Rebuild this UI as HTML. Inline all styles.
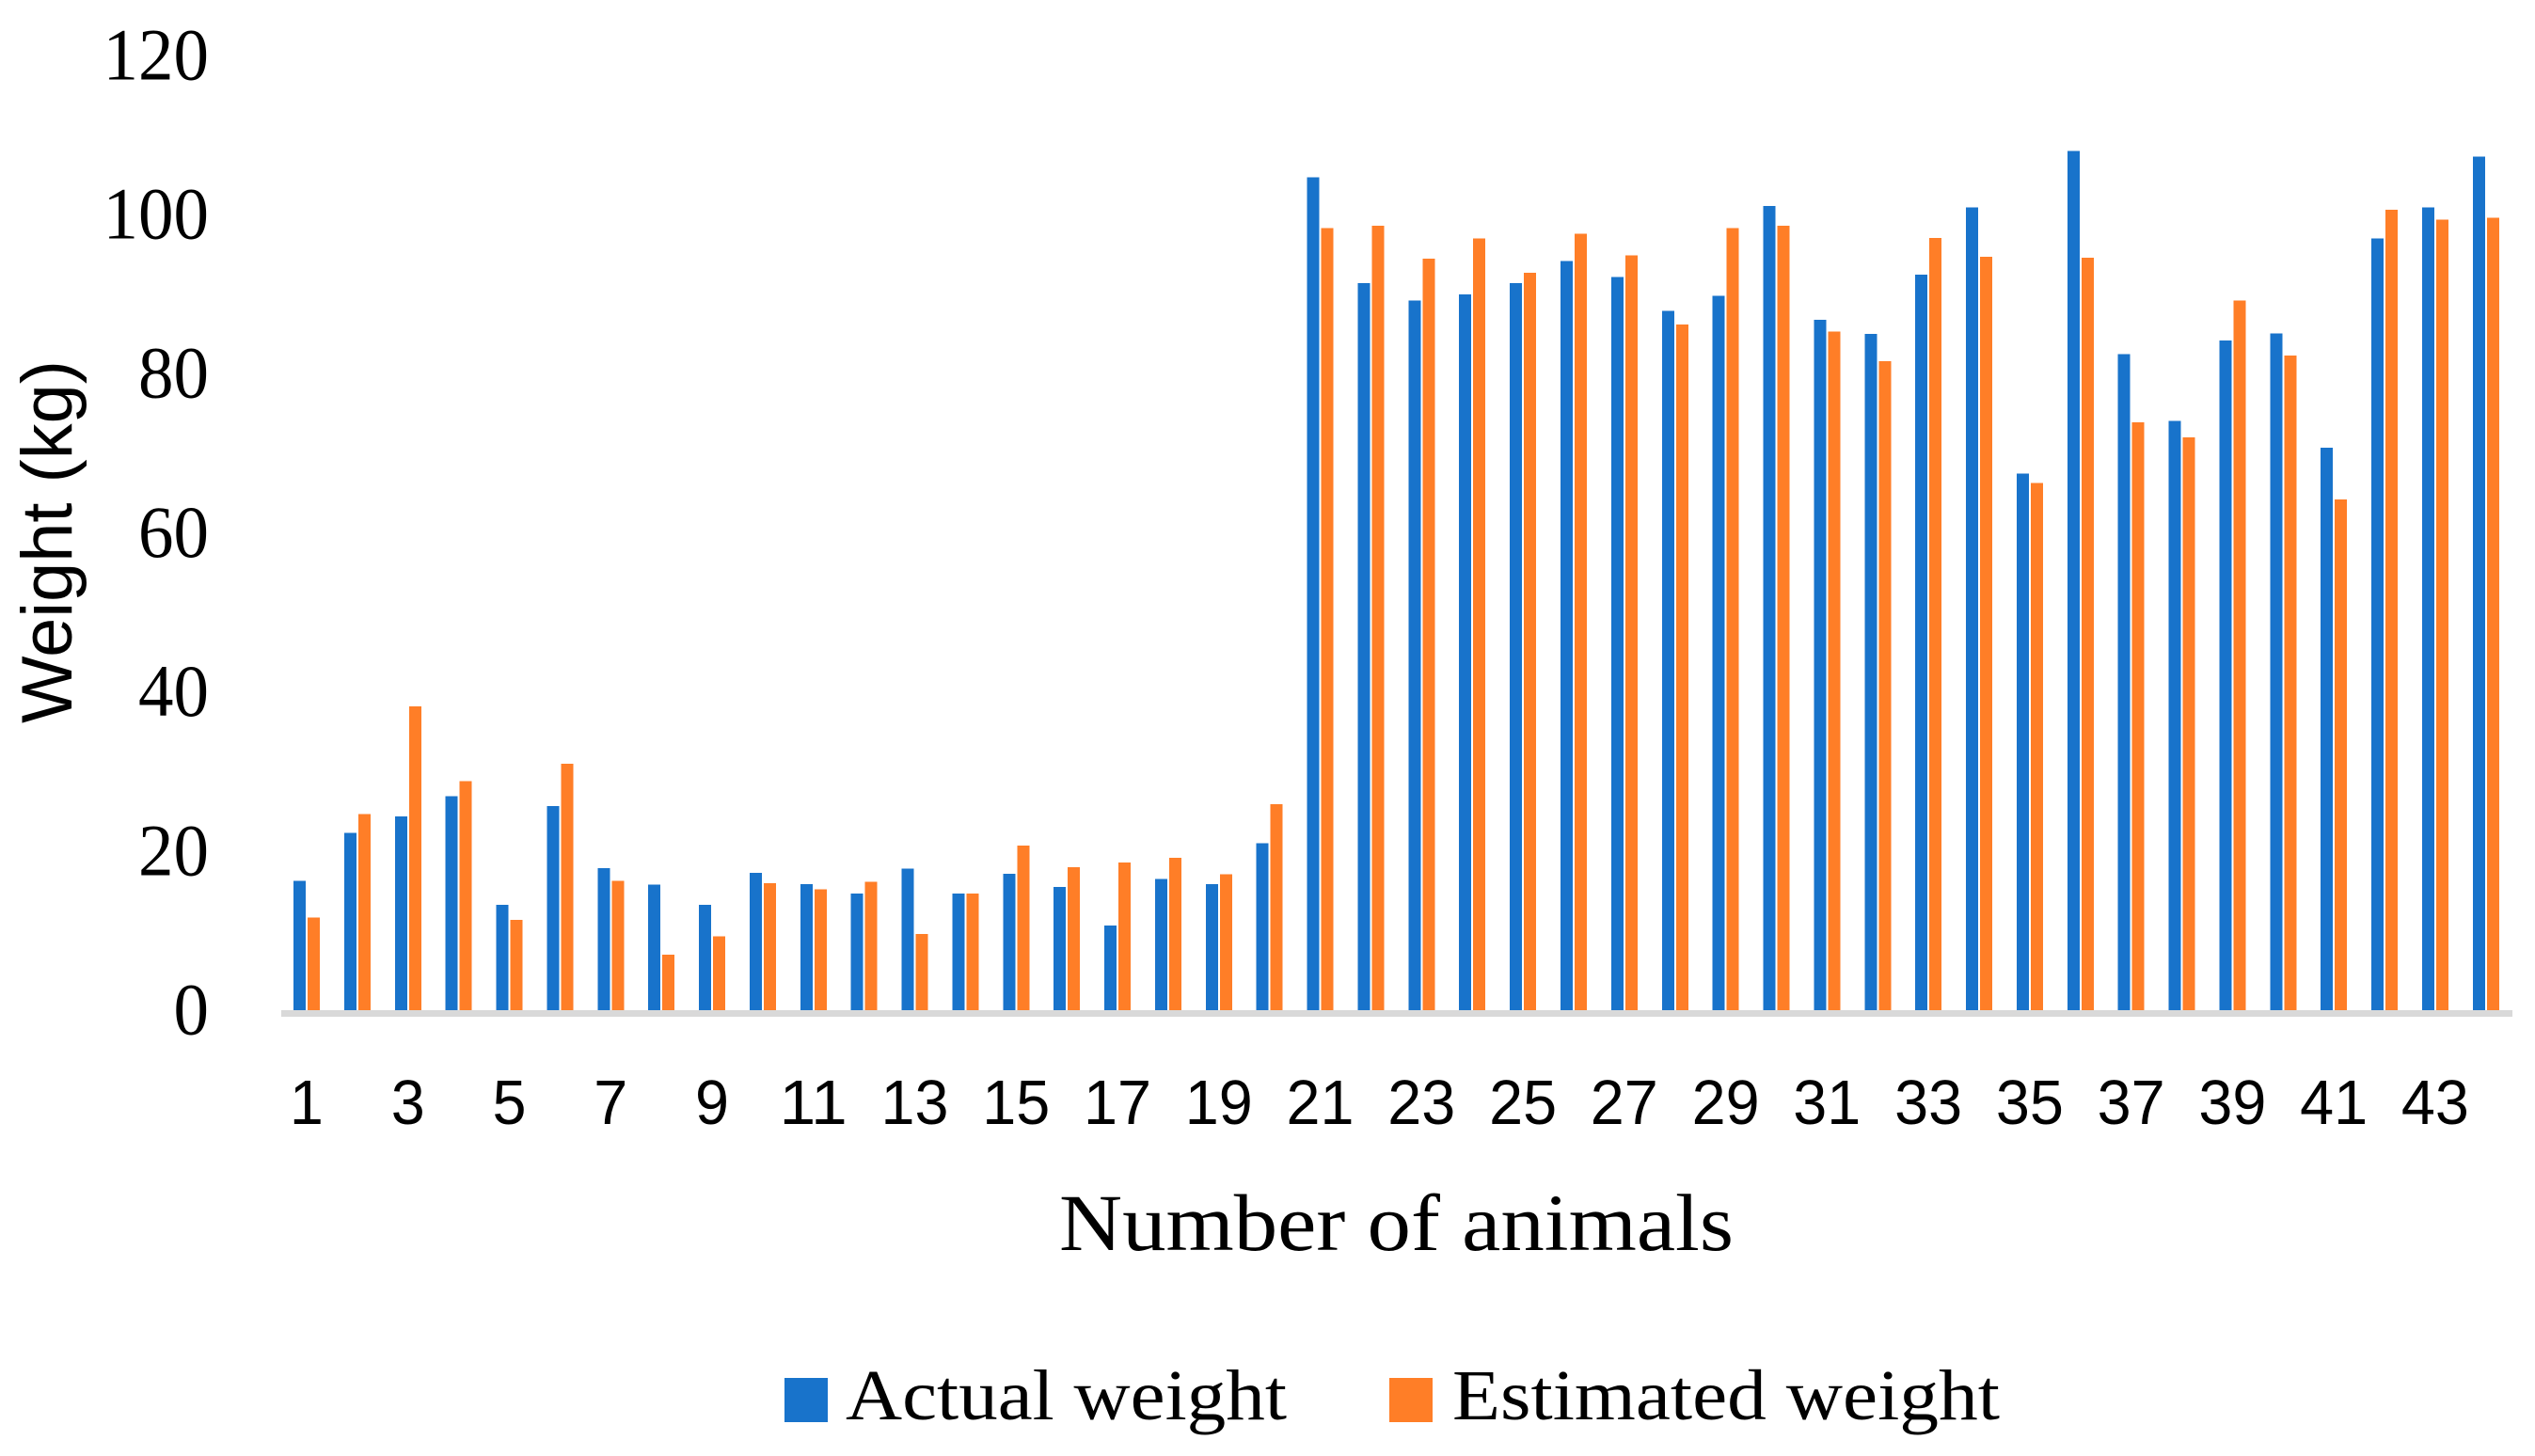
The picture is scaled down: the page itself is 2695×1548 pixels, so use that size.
<!DOCTYPE html>
<html lang="en">
<head>
<meta charset="utf-8">
<title>Actual and estimated weight by animal</title>
<style>
  html, body { margin: 0; padding: 0; background: #fff; }
  body { width: 2695px; height: 1548px; overflow: hidden; }
  svg { display: block; }
  .serif { font-family: "Liberation Serif", serif; fill: #000; }
  .sans { font-family: "Liberation Sans", sans-serif; fill: #000; }
</style>
</head>
<body>
<svg id="chart" xmlns="http://www.w3.org/2000/svg" width="2695" height="1548" viewBox="0 0 2695 1548">
  <rect x="0" y="0" width="2695" height="1548" fill="#ffffff"/>
  <g id="bars" shape-rendering="crispEdges"></g>
  <rect id="x-axis-line" x="299" y="1074" width="2372" height="7" fill="#d9d9d9" shape-rendering="crispEdges"/>
  <g id="y-ticks"></g>
  <g id="x-ticks"></g>
  <text class="sans" transform="translate(76 769) rotate(-90)" font-size="76" textLength="386" lengthAdjust="spacingAndGlyphs">Weight (kg)</text>
  <text class="serif" x="1126" y="1329" font-size="86" textLength="717" lengthAdjust="spacingAndGlyphs">Number of animals</text>
  <g>
    <g>
      <rect x="834" y="1465" width="46" height="47" fill="#1873cb" shape-rendering="crispEdges"/>
      <text class="serif" x="899" y="1509" font-size="76" textLength="469" lengthAdjust="spacingAndGlyphs">Actual weight</text>
    </g>
    <g>
      <rect x="1477" y="1465" width="46" height="47" fill="#ff7e27" shape-rendering="crispEdges"/>
      <text class="serif" x="1544" y="1509" font-size="76" textLength="582" lengthAdjust="spacingAndGlyphs">Estimated weight</text>
    </g>
  </g>
</svg>
<script>
const categories = [1,2,3,4,5,6,7,8,9,10,11,12,13,14,15,16,17,18,19,20,21,22,23,24,25,26,27,28,29,30,31,32,33,34,35,36,37,38,39,40,41,42,43,44];
const actualWeight = [16.5,22.5,24.6,27.1,13.5,25.9,18.1,16.0,13.5,17.5,16.1,14.9,18.0,14.9,17.4,15.7,10.9,16.7,16.1,21.2,104.9,91.6,89.4,90.2,91.6,94.4,92.4,88.1,90.0,101.3,87.0,85.2,92.7,101.1,67.7,108.2,82.7,74.3,84.4,85.3,70.9,97.2,101.1,107.5];
const estimatedWeight = [11.9,24.9,38.4,29.0,11.6,31.2,16.5,7.2,9.5,16.2,15.4,16.4,9.8,14.9,20.9,18.2,18.8,19.4,17.3,26.1,98.5,98.8,94.7,97.2,92.9,97.8,95.1,86.4,98.5,98.8,85.5,81.8,97.3,94.9,66.5,94.8,74.1,72.2,89.4,82.5,64.4,100.8,99.6,99.8];
const yTickLabels = [0,20,40,60,80,100,120];
const xTickLabels = [1,3,5,7,9,11,13,15,17,19,21,23,25,27,29,31,33,35,37,39,41,43];

const SVG_NS = 'http://www.w3.org/2000/svg';
const axisZeroY = 1076;
const pxPerUnit = 8.46;
const axisLeft = 299;
const categoryStep = 53.88;
const barWidth = 13;
const barInset = 13;
const barGap = 2;

function yScale(v) { return axisZeroY - v * pxPerUnit; }
function xScale(index) { return axisLeft + index * categoryStep; }

const barsGroup = document.getElementById('bars');
function addBar(value, left, fill, name) {
  const top = yScale(value);
  const r = document.createElementNS(SVG_NS, 'rect');
  r.setAttribute('x', left.toFixed(2));
  r.setAttribute('y', top.toFixed(2));
  r.setAttribute('width', barWidth);
  r.setAttribute('height', (axisZeroY - top).toFixed(2));
  r.setAttribute('fill', fill);
  
  
  barsGroup.appendChild(r);
}
categories.forEach(function (c, i) {
  const left = xScale(i) + barInset;
  addBar(actualWeight[i], left, '#1873cb', 'bar-actual-' + c);
  addBar(estimatedWeight[i], left + barWidth + barGap, '#ff7e27', 'bar-estimated-' + c);
});

const yTicksGroup = document.getElementById('y-ticks');
yTickLabels.forEach(function (v) {
  const t = document.createElementNS(SVG_NS, 'text');
  const s = String(v);
  t.setAttribute('class', 'serif');
  t.setAttribute('x', 222);
  t.setAttribute('y', (yScale(v) + 23.5).toFixed(1));
  t.setAttribute('text-anchor', 'end');
  t.setAttribute('font-size', '78');
  t.setAttribute('textLength', s.length * 37.5);
  t.setAttribute('lengthAdjust', 'spacingAndGlyphs');
  
  
  t.textContent = s;
  yTicksGroup.appendChild(t);
});

const xTicksGroup = document.getElementById('x-ticks');
xTickLabels.forEach(function (c) {
  const t = document.createElementNS(SVG_NS, 'text');
  const s = String(c);
  const index = categories.indexOf(c);
  t.setAttribute('class', 'sans');
  t.setAttribute('x', (xScale(index) + categoryStep / 2).toFixed(1));
  t.setAttribute('y', 1195);
  t.setAttribute('text-anchor', 'middle');
  t.setAttribute('font-size', '67');
  t.setAttribute('textLength', s.length * 36);
  t.setAttribute('lengthAdjust', 'spacingAndGlyphs');
  
  
  t.textContent = s;
  xTicksGroup.appendChild(t);
});
</script>
</body>
</html>
